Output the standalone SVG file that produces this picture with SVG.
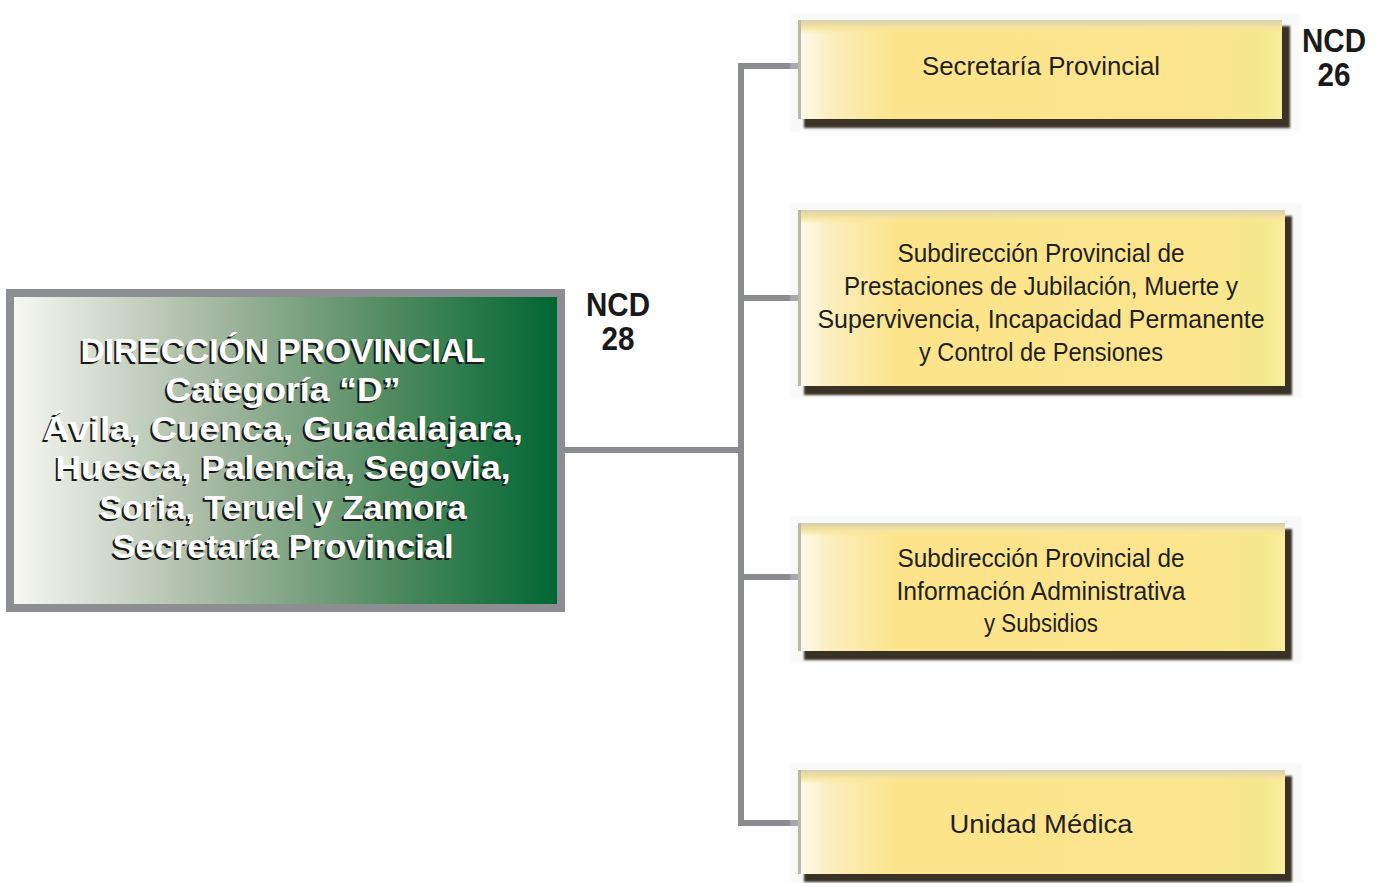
<svg xmlns="http://www.w3.org/2000/svg" width="1385" height="883" viewBox="0 0 1385 883">
<defs>
<linearGradient id="green" x1="0" y1="0" x2="1" y2="0">
<stop offset="0" stop-color="#f7f7f2"/>
<stop offset="0.35" stop-color="#a9bba5"/>
<stop offset="0.7" stop-color="#4e8a5e"/>
<stop offset="1" stop-color="#006633"/>
</linearGradient>
<linearGradient id="yel" x1="0" y1="0" x2="1" y2="0">
<stop offset="0" stop-color="#fdfbee"/>
<stop offset="0.06" stop-color="#fbeec0"/>
<stop offset="0.2" stop-color="#fde48a"/>
<stop offset="0.8" stop-color="#fde58e"/>
<stop offset="0.95" stop-color="#f4e88c"/>
<stop offset="1" stop-color="#f8ee9e"/>
</linearGradient>
<linearGradient id="topband" x1="0" y1="0" x2="0" y2="1">
<stop offset="0" stop-color="#d8cfae"/>
<stop offset="0.5" stop-color="#f4e4a0"/>
<stop offset="1" stop-color="#fde98f" stop-opacity="0"/>
</linearGradient>
<filter id="soft" x="-5%" y="-10%" width="110%" height="120%">
<feGaussianBlur stdDeviation="1.2"/>
</filter>
</defs>
<style>
.conn{stroke:#8b8c90;stroke-width:6;fill:none}
.shadow{fill:#3a3328}
.halo{fill:#ececec}
.face{fill:url(#yel)}
.band{fill:url(#topband)}
.edge{fill:#b9b9ae}
.yt{font-family:"Liberation Sans",Arial,sans-serif;font-size:26px;fill:#231f20;text-anchor:middle}
.ncd{font-family:"Liberation Sans",Arial,sans-serif;font-size:33px;font-weight:bold;fill:#1a1a1a;text-anchor:middle}
.gt{font-family:"Liberation Sans",Arial,sans-serif;font-size:34px;font-weight:bold;text-anchor:middle}
.gs{fill:#1a1a1a}
.gw{fill:#ffffff}
</style>
<rect width="1385" height="883" fill="#ffffff"/>

<g id="connectors">
<line class="conn" x1="565" y1="450" x2="744" y2="450"/>
<line class="conn" x1="741" y1="63" x2="741" y2="826"/>
<line class="conn" x1="738" y1="66" x2="800" y2="66"/>
<line class="conn" x1="738" y1="298" x2="800" y2="298"/>
<line class="conn" x1="738" y1="577" x2="800" y2="577"/>
<line class="conn" x1="738" y1="823" x2="800" y2="823"/>
</g>

<g id="direccion">
<rect x="6" y="289" width="559" height="323" fill="#8d8e92"/>
<rect x="14" y="297" width="543" height="307" fill="url(#green)"/>
<g class="gt gs" transform="translate(-2,2)">
<text x="283" y="362" textLength="405" lengthAdjust="spacingAndGlyphs">DIRECCIÓN PROVINCIAL</text>
<text x="283" y="401" textLength="235" lengthAdjust="spacingAndGlyphs">Categoría “D”</text>
<text x="283" y="440" textLength="480" lengthAdjust="spacingAndGlyphs">Ávila, Cuenca, Guadalajara,</text>
<text x="283" y="479" textLength="455" lengthAdjust="spacingAndGlyphs">Huesca, Palencia, Segovia,</text>
<text x="283" y="519" textLength="367" lengthAdjust="spacingAndGlyphs">Soria, Teruel y Zamora</text>
<text x="283" y="558" textLength="341" lengthAdjust="spacingAndGlyphs">Secretaría Provincial</text>
</g>
<g class="gt gw">
<text x="283" y="362" textLength="405" lengthAdjust="spacingAndGlyphs">DIRECCIÓN PROVINCIAL</text>
<text x="283" y="401" textLength="235" lengthAdjust="spacingAndGlyphs">Categoría “D”</text>
<text x="283" y="440" textLength="480" lengthAdjust="spacingAndGlyphs">Ávila, Cuenca, Guadalajara,</text>
<text x="283" y="479" textLength="455" lengthAdjust="spacingAndGlyphs">Huesca, Palencia, Segovia,</text>
<text x="283" y="519" textLength="367" lengthAdjust="spacingAndGlyphs">Soria, Teruel y Zamora</text>
<text x="283" y="558" textLength="341" lengthAdjust="spacingAndGlyphs">Secretaría Provincial</text>
</g>
</g>

<g id="ncd28">
<text class="ncd" x="618" y="316" textLength="64" lengthAdjust="spacingAndGlyphs">NCD</text>
<text class="ncd" x="618" y="350" textLength="33" lengthAdjust="spacingAndGlyphs">28</text>
</g>

<g id="ncd26">
<text class="ncd" x="1334" y="52" textLength="64" lengthAdjust="spacingAndGlyphs">NCD</text>
<text class="ncd" x="1334" y="86" textLength="33" lengthAdjust="spacingAndGlyphs">26</text>
</g>

<g id="secretaria">
<rect class="halo" x="790" y="14" width="510" height="118" filter="url(#soft)" opacity="0.3"/>
<rect class="shadow" x="804" y="26" width="486" height="102" filter="url(#soft)"/>
<rect class="face" x="800" y="20" width="482" height="99"/>
<rect class="band" x="800" y="20" width="482" height="14"/>
<rect class="edge" x="798" y="20" width="3" height="99"/>
<text class="yt" x="1041" y="75" textLength="238" lengthAdjust="spacingAndGlyphs">Secretaría Provincial</text>
</g>

<g id="subdir-prestaciones">
<rect class="halo" x="790" y="203" width="512" height="196" filter="url(#soft)" opacity="0.3"/>
<rect class="shadow" x="804" y="216" width="488" height="179" filter="url(#soft)"/>
<rect class="face" x="800" y="210" width="485" height="176"/>
<rect class="band" x="800" y="210" width="485" height="14"/>
<rect class="edge" x="798" y="210" width="3" height="176"/>
<text class="yt" x="1041" y="262" textLength="287" lengthAdjust="spacingAndGlyphs">Subdirección Provincial de</text>
<text class="yt" x="1041" y="295" textLength="394" lengthAdjust="spacingAndGlyphs">Prestaciones de Jubilación, Muerte y</text>
<text class="yt" x="1041" y="328" textLength="447" lengthAdjust="spacingAndGlyphs">Supervivencia, Incapacidad Permanente</text>
<text class="yt" x="1041" y="361" textLength="244" lengthAdjust="spacingAndGlyphs">y Control de Pensiones</text>
</g>

<g id="subdir-informacion">
<rect class="halo" x="790" y="516" width="512" height="148" filter="url(#soft)" opacity="0.3"/>
<rect class="shadow" x="804" y="529" width="488" height="131" filter="url(#soft)"/>
<rect class="face" x="800" y="523" width="485" height="128"/>
<rect class="band" x="800" y="523" width="485" height="14"/>
<rect class="edge" x="798" y="523" width="3" height="128"/>
<text class="yt" x="1041" y="567" textLength="287" lengthAdjust="spacingAndGlyphs">Subdirección Provincial de</text>
<text class="yt" x="1041" y="600" textLength="289" lengthAdjust="spacingAndGlyphs">Información Administrativa</text>
<text class="yt" x="1041" y="632" textLength="114" lengthAdjust="spacingAndGlyphs">y Subsidios</text>
</g>

<g id="unidad-medica">
<rect class="halo" x="790" y="763" width="512" height="120" filter="url(#soft)" opacity="0.3"/>
<rect class="shadow" x="804" y="776" width="488" height="106" filter="url(#soft)"/>
<rect class="face" x="800" y="770" width="485" height="104"/>
<rect class="band" x="800" y="770" width="485" height="14"/>
<rect class="edge" x="798" y="770" width="3" height="104"/>
<text class="yt" x="1041" y="833" textLength="183" lengthAdjust="spacingAndGlyphs">Unidad Médica</text>
</g>
</svg>
